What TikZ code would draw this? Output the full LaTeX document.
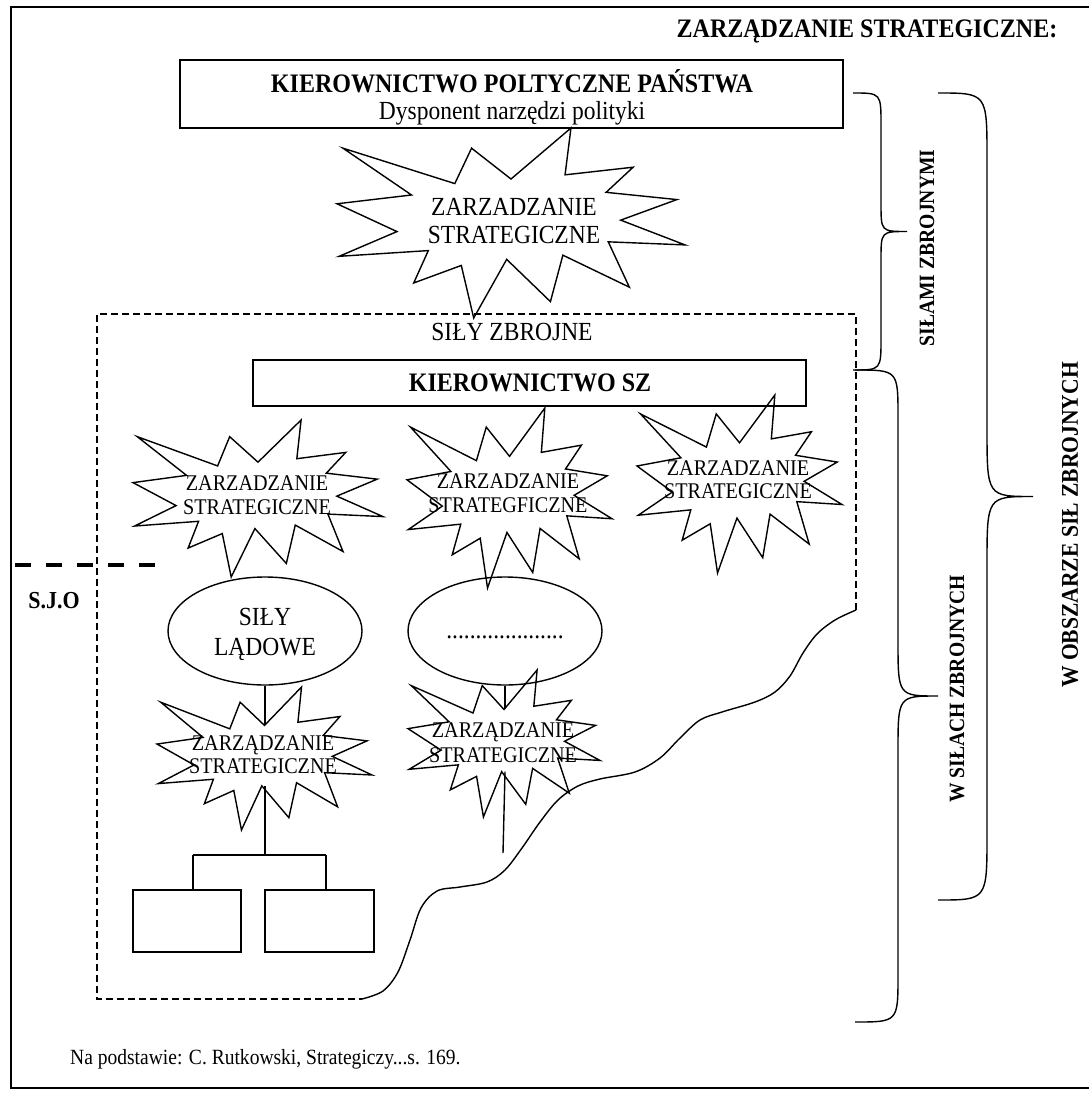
\documentclass[tikz,border=0pt]{standalone}
\usepackage{fontspec}
\setmainfont{Liberation Serif}[FakeStretch=0.9]
\usetikzlibrary{shapes.geometric}

% explosion outline in a 216 x 216 box, y measured downwards
\newcommand\burstshape{%
  \draw[outline] (108,58) -- (145.22,0) -- (141.55,53.25) -- (183.8,44.57)
    -- (167.02,73.15) -- (210.97,81.37) -- (176.07,104.75) -- (216,132.9)
    -- (168.37,129.42) -- (181.45,180.95) -- (140.2,144.57) -- (132.47,197.37)
    -- (105.32,149.35) -- (84.85,216) -- (77.15,156.27) -- (47.62,176.17)
    -- (56.67,139.37) -- (1.35,145.87) -- (37.22,117.75) -- (0,86.15)
    -- (46.27,76.17) -- (3.7,22.95) -- (73.12,63.2) -- (83.52,22.95) -- cycle;}

% name, left x, top y, width, height
\newcommand\burst[5]{%
  \begin{scope}[shift={(#2,#3)}, xscale=#4/216, yscale=#5/216]
    \burstshape
    \coordinate (#1-top) at (108,58);
    \coordinate (#1-bot) at (105.32,149.35);
  \end{scope}}

% curly brace: end x, top y, bottom y, stem x, tip x, end radius, tip radius
\newcommand\curly[7]{%
  \draw[outline] (#1,#2) .. controls (#4,#2) .. (#4,{#2+#6})
    -- (#4,{(#2+#3)/2-#7}) .. controls (#4,{(#2+#3)/2}) .. (#5,{(#2+#3)/2})
    .. controls (#4,{(#2+#3)/2}) .. (#4,{(#2+#3)/2+#7})
    -- (#4,{#3-#6}) .. controls (#4,#3) .. (#1,#3);}

\begin{document}
\begin{tikzpicture}[x=1pt, y=-1pt,
  outline/.style={draw=black, line width=1.4pt, line join=miter},
  outerframe/.style={draw=black, line width=1.8pt},
  boxnode/.style={draw=black, line width=1.4pt, rectangle, inner sep=0pt},
  oval/.style={draw=black, line width=1.4pt, ellipse, inner sep=0pt,
    minimum width=194pt, minimum height=108pt},
  fineDashes/.style={draw=black, line width=1.2pt, dash pattern=on 7pt off 4pt},
  heavyDashes/.style={draw=black, line width=4pt, dash pattern=on 16pt off 15pt},
  headfont/.style={font=\fontsize{26.7}{30}\selectfont\bfseries, inner sep=0pt, anchor=base},
  plainfont/.style={font=\fontsize{26.1}{30}\selectfont, inner sep=0pt, anchor=base},
  smallfont/.style={font=\fontsize{22.4}{25}\selectfont, inner sep=0pt, anchor=base},
  notefont/.style={font=\fontsize{21.7}{24}\selectfont, inner sep=0pt, anchor=base west},
  sidelabel/.style={font=\fontsize{21.8}{24}\selectfont\bfseries, rotate=90, inner sep=0pt},
]
\fill[white] (0,0) rectangle (1089,1094);
\useasboundingbox (0,0) rectangle (1089,1094);

% page frame
\draw[outerframe] (1089,7) -- (11,7) -- (11,1088) -- (1089,1088);

% heading
\node[headfont] (heading) at (867,38) {ZARZĄDZANIE STRATEGICZNE:};

% political leadership
\node[boxnode, minimum width=663pt, minimum height=68pt] (leadership) at (511.5,94) {};
\node[headfont] (leadtitle) at (512,93) {KIEROWNICTWO POLTYCZNE PAŃSTWA};
\node[plainfont] (leadsub) at (512,120) {Dysponent narzędzi polityki};

% top explosion
\burst{b1}{337}{128}{348}{190}
\node[plainfont] (b1a) at (514,215) {ZARZADZANIE};
\node[plainfont] (b1b) at (514,243) {STRATEGICZNE};

% armed forces region
\draw[fineDashes] (856,610) -- (856,314) -- (97,314) -- (97,999) -- (362,999);
\draw[outline] plot[smooth, tension=0.55] coordinates {(856,610) (835,620) (817,634)
  (803,653) (790,676) (775,692) (755,702) (722,712) (700,720) (680,738) (660,758)
  (635,772) (600,779) (578,786) (558,800) (540,822) (522,848) (505,870) (487,882)
  (460,887) (437,891) (421,908) (410,940) (398,972) (383,991) (362,999)};
\node[plainfont] (forces) at (512,340) {SIŁY ZBROJNE};

\node[boxnode, minimum width=553pt, minimum height=46pt] (command) at (529.5,383) {};
\node[headfont] (commandtxt) at (530,391) {KIEROWNICTWO SZ};

% second row of explosions
\burst{b2}{133}{420}{250}{157}
\node[smallfont] (b2a) at (257,490) {ZARZADZANIE};
\node[smallfont] (b2b) at (257,514) {STRATEGICZNE};

\burst{b3}{407}{408}{205}{180}
\node[smallfont] (b3a) at (508,488) {ZARZADZANIE};
\node[smallfont] (b3b) at (508,512) {STRATEGFICZNE};

\burst{b4}{637}{395}{205}{178}
\node[smallfont] (b4a) at (738,475) {ZARZADZANIE};
\node[smallfont] (b4b) at (738,498) {STRATEGICZNE};

% S.J.O marker
\coordinate (sjoR) at (155,565);
\coordinate (sjoL) at (11,565);
\draw[heavyDashes] (sjoR) -- (sjoL);
\node[font=\fontsize{24.4}{27}\selectfont\bfseries, inner sep=0pt, anchor=base] (sjo) at (54,608) {S.J.O};

% branches
\node[oval] (oval1) at (265,631) {};
\node[plainfont] (oval1a) at (265,625) {SIŁY};
\node[plainfont] (oval1b) at (265,655) {LĄDOWE};

\node[oval] (oval2) at (505,631) {};
\node[plainfont] (oval2a) at (505,638) {....................};

\burst{b5}{157}{687}{215}{143}
\node[smallfont] (b5a) at (263,750) {ZARZĄDZANIE};
\node[smallfont] (b5b) at (263,773) {STRATEGICZNE};

\burst{b6}{408}{670}{192}{147}
\node[smallfont] (b6a) at (503,737) {ZARZĄDZANIE};
\node[smallfont] (b6b) at (503,762) {STRATEGICZNE};

\draw[outline] (oval1.south) -- (oval1.south |- b5-top);
\draw[outline] (oval2.south) -- (oval2.south |- b6-top);

% units under land forces
\coordinate (fork) at (265,855);
\coordinate (forkL) at (193,855);
\coordinate (forkR) at (326,855);
\coordinate (tail) at (503,853);
\node[boxnode, minimum width=108pt, minimum height=62pt] (unitL) at (187,921) {};
\node[boxnode, minimum width=109pt, minimum height=62pt] (unitR) at (319.5,921) {};
\draw[outline] (oval1.south |- b5-bot) -- (fork);
\draw[outline] (forkL) -- (forkR);
\draw[outline] (forkL) -- (forkL |- unitL.north);
\draw[outline] (forkR) -- (forkR |- unitR.north);
\draw[outline] (oval2.south |- b6-bot) -- (tail);

% braces and their labels
\curly{853}{93}{370}{881}{907}{32}{28}
\curly{938}{93}{900}{987}{1033}{65}{68}
\curly{855}{370}{1022}{898}{938}{47}{55}
\node[sidelabel] (lab1) at (927,248) {SIŁAMI ZBROJNYMI};
\node[sidelabel] (lab2) at (957,689) {W SIŁACH ZBROJNYCH};
\node[sidelabel, font=\fontsize{24}{27}\selectfont\bfseries] (lab3) at (1070,525) {W OBSZARZE SIŁ ZBROJNYCH};

% source note
\node[notefont] (source) at (70,1064) {Na podstawie: C. Rutkowski, Strategiczy...s. 169.};
\end{tikzpicture}
\end{document}
